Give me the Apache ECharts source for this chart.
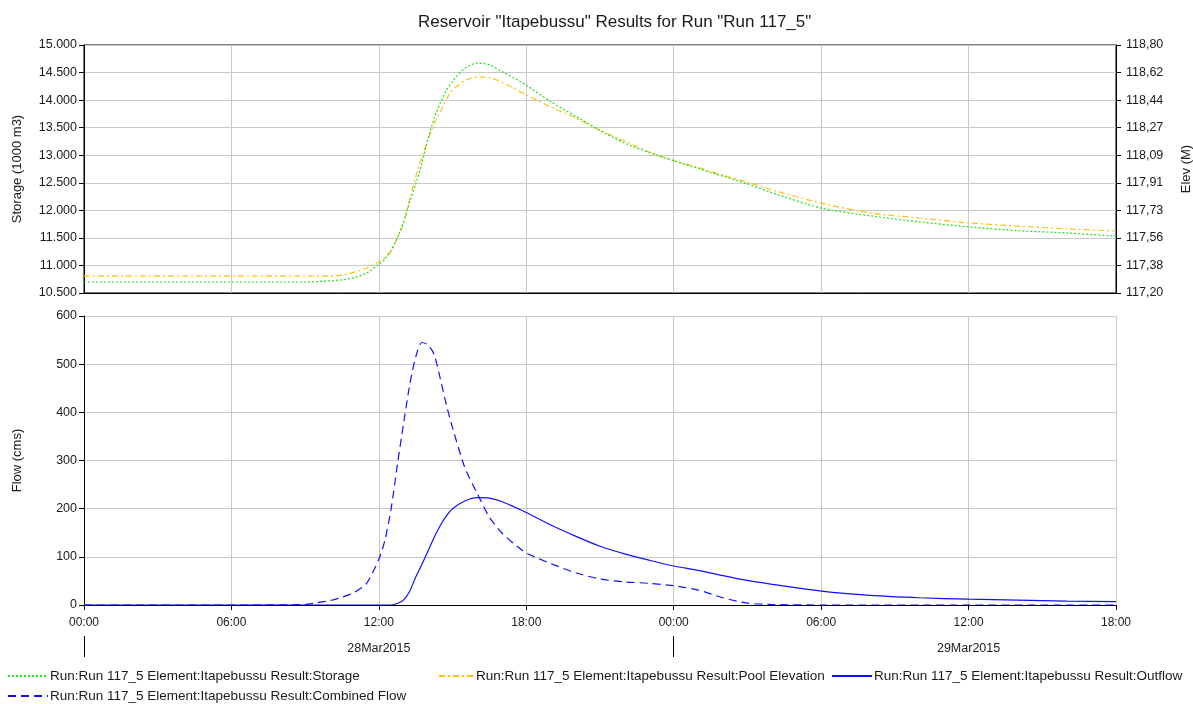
<!DOCTYPE html>
<html>
<head>
<meta charset="utf-8">
<script src="https://cdn.jsdelivr.net/npm/echarts@6/dist/echarts.min.js"></script>
<style>
  html, body { margin: 0; padding: 0; background: #fff; }
  #chart { width: 1193px; height: 704px; }
</style>
</head>
<body>
<div id="chart"></div>
<script>
// Hours since 28Mar2015 00:00 for the reservoir state series
const stateHours = [0, 6, 9, 10, 10.5, 11, 11.5, 12, 12.25, 12.5, 12.75, 13, 13.25, 13.5, 13.75, 14, 14.25, 14.5, 14.75, 15, 15.5, 16, 16.5, 17, 17.5, 18, 19, 20, 21, 22, 23, 24, 25, 26, 27, 28, 30, 32, 34, 36, 38, 40, 42];
// Storage (1000 m3)
const storage = [10.70, 10.70, 10.70, 10.72, 10.74, 10.78, 10.86, 11.02, 11.12, 11.28, 11.50, 11.78, 12.15, 12.47, 12.85, 13.30, 13.67, 13.95, 14.18, 14.34, 14.58, 14.67, 14.64, 14.52, 14.40, 14.27, 13.97, 13.71, 13.45, 13.22, 13.05, 12.90, 12.76, 12.62, 12.48, 12.32, 12.04, 11.90, 11.79, 11.70, 11.63, 11.59, 11.53];
// Pool elevation (M)
const poolElevation = [117.31, 117.31, 117.31, 117.31, 117.315, 117.335, 117.36, 117.40, 117.43, 117.47, 117.555, 117.645, 117.80, 117.95, 118.08, 118.19, 118.29, 118.37, 118.45, 118.51, 118.57, 118.593, 118.59, 118.56, 118.52, 118.478, 118.40, 118.33, 118.25, 118.18, 118.11, 118.055, 118.01, 117.96, 117.915, 117.865, 117.78, 117.716, 117.684, 117.652, 117.632, 117.614, 117.60];

// Hours for the flow series
const flowHours = [0, 6, 9, 9.5, 10, 10.5, 11, 11.5, 12, 12.25, 12.5, 12.75, 13, 13.25, 13.5, 13.75, 14, 14.25, 14.5, 14.75, 15, 15.5, 16, 16.5, 17, 17.5, 18, 19, 20, 21, 22, 23, 24, 25, 26, 27, 28, 30, 32, 34, 36, 38, 40, 42];
// Outflow (cms)
const outflow = [0, 0, 0, 0, 0, 0, 0, 0, 0, 0, 0, 3, 10, 28, 58, 84, 112, 140, 165, 185, 200, 216, 223, 222, 215, 204, 192, 166, 143, 122, 106, 93, 81, 72, 61, 51, 43, 29, 20, 15, 12, 10, 8, 7];
// Combined inflow (cms)
const combinedFlow = [0, 0, 1, 5, 9, 16, 26, 45, 95, 135, 200, 290, 375, 455, 515, 545, 540, 520, 470, 415, 368, 285, 232, 182, 150, 127, 108, 86, 67, 54, 48, 45, 40, 31, 15, 4, 1, 0, 0, 0, 0, 0, 0, 0];

// Axis tick values
const dayBoundaries = [0, 24];
const dayLabelHours = [12, 36];
const dayLabels = ['28Mar2015', '29Mar2015'];
const elevMin = 117.2, elevMax = 118.8, elevSteps = 9;
const elevTicks = Array.from({length: elevSteps + 1}, (_, i) => elevMin + i * (elevMax - elevMin) / elevSteps);

const TITLE = 'Reservoir "Itapebussu" Results for Run "Run 117_5"';
const NAME_STORAGE = 'Run:Run 117_5 Element:Itapebussu Result:Storage';
const NAME_POOL = 'Run:Run 117_5 Element:Itapebussu Result:Pool Elevation';
const NAME_OUT = 'Run:Run 117_5 Element:Itapebussu Result:Outflow';
const NAME_COMB = 'Run:Run 117_5 Element:Itapebussu Result:Combined Flow';

const zip = (xs, ys) => xs.map((x, i) => [x, ys[i]]);
const FONT = 'Liberation Sans, Arial, sans-serif';
const GRID_COLOR = '#c8c8c8';
const TEXT_COLOR = '#1a1a1a';
const hh = v => String(((v % 24) + 24) % 24).padStart(2, '0') + ':00';

const chart = echarts.init(document.getElementById('chart'));

const legendBase = {
  orient: 'horizontal',
  itemWidth: 40,
  itemHeight: 10,
  itemGap: 0,
  itemStyle: { opacity: 0, borderWidth: 0 },
  textStyle: { fontFamily: FONT, fontSize: 13.5, color: TEXT_COLOR, padding: [0, 0, 0, -3] },
  selectedMode: false
};

chart.setOption({
  animation: false,
  backgroundColor: '#fff',
  textStyle: { fontFamily: FONT },
  title: {
    text: TITLE,
    left: 413,
    top: 9,
    textStyle: { fontFamily: FONT, fontSize: 17, fontWeight: 'normal', color: TEXT_COLOR }
  },
  legend: [
    Object.assign({}, legendBase, { data: [NAME_STORAGE], left: 2, top: 664 }),
    Object.assign({}, legendBase, { data: [NAME_POOL], left: 433, top: 664, itemWidth: 35 }),
    Object.assign({}, legendBase, { data: [NAME_OUT], left: 826, top: 664 }),
    Object.assign({}, legendBase, { data: [NAME_COMB], left: 2, top: 684 })
  ],
  grid: [
    { left: 84, right: 77, top: 45, height: 248, outerBoundsMode: 'none', containLabel: false,
      show: true, borderColor: '#000', borderWidth: 1, backgroundColor: 'transparent' },
    { left: 84, right: 77, top: 316, height: 289, outerBoundsMode: 'none', containLabel: false }
  ],
  xAxis: [
    {
      gridIndex: 0, type: 'value', min: 0, max: 42, interval: 6,
      axisLine: { show: true, lineStyle: { color: '#000' } },
      axisTick: { show: false },
      axisLabel: { show: false },
      splitLine: { show: true, lineStyle: { color: GRID_COLOR, width: 1 } }
    },
    {
      gridIndex: 1, type: 'value', min: 0, max: 42, interval: 6,
      axisLine: { show: true, onZero: false, lineStyle: { color: '#000' } },
      axisTick: { show: true, length: 5, lineStyle: { color: '#000' } },
      axisLabel: { formatter: hh, fontSize: 12, color: TEXT_COLOR, margin: 12, showMaxLabel: true, showMinLabel: true },
      splitLine: { show: true, lineStyle: { color: GRID_COLOR, width: 1 } }
    },
    {
      // day boundary ticks and date labels under the time axis
      gridIndex: 1, type: 'value', min: 0, max: 42, position: 'bottom', offset: 31,
      axisLine: { show: false, onZero: false },
      axisTick: { show: true, inside: false, length: 21, customValues: dayBoundaries, lineStyle: { color: '#000' } },
      axisLabel: {
        customValues: dayLabelHours,
        formatter: v => dayLabels[dayLabelHours.indexOf(v)] || '',
        fontSize: 12.5, color: TEXT_COLOR, margin: 6
      },
      splitLine: { show: false }
    }
  ],
  yAxis: [
    {
      gridIndex: 0, type: 'value', min: 10.5, max: 15, interval: 0.5,
      name: 'Storage (1000 m3)', nameLocation: 'middle', nameRotate: 90, nameGap: 60,
      nameTextStyle: { fontSize: 13, color: TEXT_COLOR },
      axisLine: { show: true, lineStyle: { color: '#000' } },
      axisTick: { show: true, length: 5, lineStyle: { color: '#000' } },
      axisLabel: { formatter: v => v.toFixed(3), fontSize: 12.5, color: TEXT_COLOR, margin: 7 },
      splitLine: { show: true, lineStyle: { color: GRID_COLOR, width: 1 } }
    },
    {
      gridIndex: 0, type: 'value', position: 'right', min: elevMin, max: elevMax,
      name: 'Elev (M)', nameLocation: 'middle', nameRotate: 90, nameGap: 64,
      nameTextStyle: { fontSize: 13, color: TEXT_COLOR },
      axisLine: { show: true, lineStyle: { color: '#000' } },
      axisTick: { show: true, length: 5, customValues: elevTicks, lineStyle: { color: '#000' } },
      axisLabel: { customValues: elevTicks, formatter: v => v.toFixed(2).replace('.', ','), fontSize: 12.5, color: TEXT_COLOR, margin: 10 },
      splitLine: { show: false }
    },
    {
      gridIndex: 1, type: 'value', min: 0, max: 600, interval: 100,
      name: 'Flow (cms)', nameLocation: 'middle', nameRotate: 90, nameGap: 60,
      nameTextStyle: { fontSize: 13, color: TEXT_COLOR },
      axisLine: { show: true, lineStyle: { color: '#000' } },
      axisTick: { show: true, length: 5, lineStyle: { color: '#000' } },
      axisLabel: { fontSize: 12.5, color: TEXT_COLOR, margin: 7 },
      splitLine: { show: true, lineStyle: { color: GRID_COLOR, width: 1 } }
    }
  ],
  series: [
    {
      name: NAME_STORAGE, type: 'line', xAxisIndex: 0, yAxisIndex: 0,
      data: zip(stateHours, storage), symbol: 'none', smooth: 0.25, z: 3,
      lineStyle: { color: '#1ee01e', width: 1.2, type: [2, 2] }, itemStyle: { color: '#1ee01e' }
    },
    {
      name: NAME_POOL, type: 'line', xAxisIndex: 0, yAxisIndex: 1,
      data: zip(stateHours, poolElevation), symbol: 'none', smooth: 0.25, z: 2,
      lineStyle: { color: '#ffc20e', width: 1.2, type: [6, 3, 2, 3] }, itemStyle: { color: '#ffc20e' }
    },
    {
      name: NAME_OUT, type: 'line', xAxisIndex: 1, yAxisIndex: 2,
      data: zip(flowHours, outflow), symbol: 'none', smooth: 0.25, z: 3,
      lineStyle: { color: '#1010ff', width: 1.2, type: 'solid' }, itemStyle: { color: '#1010ff' }
    },
    {
      name: NAME_COMB, type: 'line', xAxisIndex: 1, yAxisIndex: 2,
      data: zip(flowHours, combinedFlow), symbol: 'none', smooth: 0.25, z: 2,
      lineStyle: { color: '#1010ff', width: 1.2, type: [8, 5] }, itemStyle: { color: '#1010ff' }
    }
  ]
});
</script>
</body>
</html>
